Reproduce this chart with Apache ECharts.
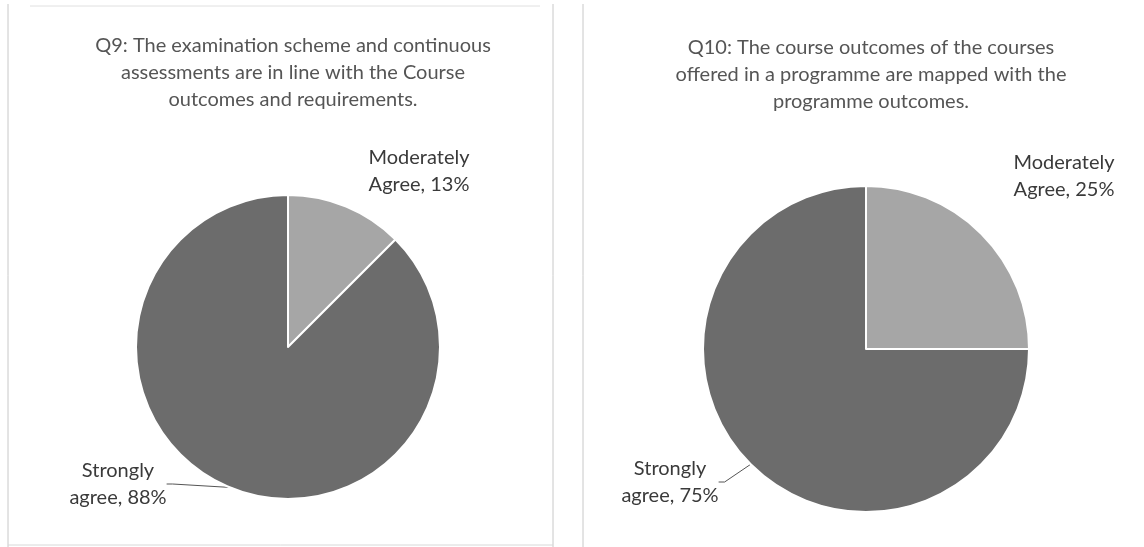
<!DOCTYPE html>
<html>
<head>
<meta charset="utf-8">
<script src="https://cdn.jsdelivr.net/npm/echarts@6/dist/echarts.min.js"></script>
<style>
  html, body { margin: 0; padding: 0; background: #fff; }
  #main { width: 1144px; height: 547px; }
</style>
</head>
<body>
<div id="main"></div>
<script>
// survey answers, share of respondents (labels are rounded)
var categories = ['Moderately Agree', 'Strongly agree'];
var labelNames = ['Moderately\nAgree', 'Strongly\nagree'];
var q9Values = [12.5, 87.5];
var q10Values = [25, 75];
var titles = [
  'Q9: The examination scheme and continuous\nassessments are in line with the Course\noutcomes and requirements.',
  'Q10: The course outcomes of the courses\noffered in a programme are mapped with the\nprogramme outcomes.'
];

var sliceColors = ['#a6a6a6', '#6c6c6c'];
var font = 'Lato';

function buildData(values) {
  return values.map(function (v, i) {
    return {
      name: categories[i], value: v,
      itemStyle: { color: sliceColors[i] },
      labelLine: { show: i === 1 }
    };
  });
}

// where each label sits, per chart
var labelSpots = [
  [{ x: 419, y: 171 }, { x: 118, y: 484 }],
  [{ x: 1064, y: 176 }, { x: 670, y: 482 }]
];

function makeSeries(idx, values, center, radius) {
  return {
    type: 'pie',
    center: center,
    radius: radius,
    startAngle: 90,
    clockwise: true,
    data: buildData(values),
    itemStyle: { borderColor: '#fff', borderWidth: 2 },
    label: {
      show: true,
      position: 'outside',
      formatter: function (p) {
        return labelNames[p.dataIndex] + ', ' + Math.round(p.value) + '%';
      },
      color: '#3a3a3a',
      fontFamily: font,
      fontSize: 20,
      lineHeight: 27,
      align: 'center'
    },
    labelLine: {
      length: 6,
      length2: 6,
      lineStyle: { color: '#555', width: 1 }
    },
    labelLayout: function (params) {
      var s = labelSpots[idx][params.dataIndex];
      return { x: s.x, y: s.y, align: 'center', verticalAlign: 'middle' };
    },
    emphasis: { disabled: true }
  };
}

var chart = echarts.init(document.getElementById('main'));
chart.setOption({
  backgroundColor: '#fff',
  animation: false,
  title: [
    {
      text: titles[0], left: 288, top: 27, textAlign: 'center',
      textStyle: { fontFamily: font, fontSize: 20, fontWeight: 'normal', color: '#555', lineHeight: 27 }
    },
    {
      text: titles[1], left: 866, top: 29, textAlign: 'center',
      textStyle: { fontFamily: font, fontSize: 20, fontWeight: 'normal', color: '#555', lineHeight: 27 }
    }
  ],
  graphic: [
    { type: 'line', shape: { x1: 8, y1: 4, x2: 8, y2: 547 }, style: { stroke: '#c8c8c8', lineWidth: 1 } },
    { type: 'line', shape: { x1: 553, y1: 4, x2: 553, y2: 547 }, style: { stroke: '#c8c8c8', lineWidth: 1 } },
    { type: 'line', shape: { x1: 8, y1: 545, x2: 553, y2: 545 }, style: { stroke: '#d8d8d8', lineWidth: 1 } },
    { type: 'line', shape: { x1: 583, y1: 4, x2: 583, y2: 547 }, style: { stroke: '#c8c8c8', lineWidth: 1 } },
    { type: 'line', shape: { x1: 30, y1: 6, x2: 540, y2: 6 }, style: { stroke: '#e0e0e0', lineWidth: 1 } }
  ],
  series: [
    makeSeries(0, q9Values, [288, 347], 152),
    makeSeries(1, q10Values, [866, 349], 163)
  ]
});
</script>
</body>
</html>
